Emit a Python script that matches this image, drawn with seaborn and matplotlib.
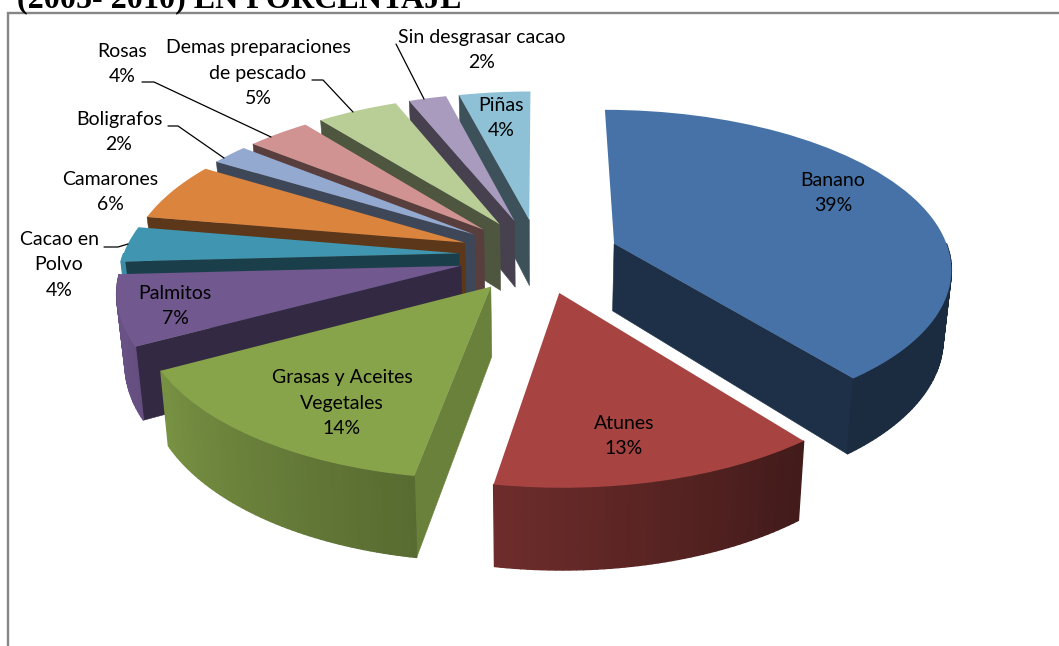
import matplotlib
matplotlib.use('Agg')
import matplotlib.pyplot as plt
import numpy as np
import seaborn as sns
from matplotlib.patches import Polygon
from matplotlib.transforms import Transform

# datos del grafico
categories = ['Banano', 'Atunes', 'Grasas y Aceites\nVegetales', 'Palmitos', 'Cacao en\nPolvo',
              'Camarones', 'Boligrafos', 'Rosas', 'Demas preparaciones\nde pescado',
              'Sin desgrasar cacao', 'Piñas']
values = [39.45, 13.3, 14.4, 7.05, 3.6, 5.96, 2.08, 3.55, 4.55, 2.11, 4.0]
pct_labels = [39, 13, 14, 7, 4, 6, 2, 4, 5, 2, 4]
slice_colors = ['#4672A8', '#A74442', '#87A44B', '#71588F', '#4096B0', '#DB843D',
                '#93A9CF', '#D19392', '#B9CD96', '#A99BBD', '#8FC1D6']
title_text = '(2005- 2010) EN PORCENTAJE'

# posicion de las etiquetas en pixeles
label_xy = [(833, 193), (624, 436), (342, 403), (175, 306), (59, 265), (110, 192),
            (119, 132), (122, 64), (258, 73), (482, 50), (501, 118)]
leaders = [[(104, 247), (118, 247), (128, 244)],
           [(168, 126), (178, 126), (224, 158)],
           [(142, 82), (154, 82), (271, 137)],
           [(312, 80), (323, 80), (353, 112)],
           [(396, 44), (424, 99)]]

# parametros de la perspectiva
CX, CY = 539, 255.6
AX_X, AX_Y = 336, 1106
D = 7.1
H = 68
EXPLODE = 0.239


def project(x, y, z=0.0):
    x = np.asarray(x, dtype=float)
    y = np.asarray(y, dtype=float)
    s = D / (D + y)
    sx = CX + AX_X * x * s * (1 - 0.02 * z)
    sy = CY - AX_Y * y / (D + y) + z * H * s
    return sx, sy


class Perspective(Transform):
    input_dims = 2
    output_dims = 2
    is_separable = False

    def transform_non_affine(self, values):
        values = np.asarray(values)
        sx, sy = project(values[:, 0], values[:, 1])
        return np.column_stack([sx, sy])


def shade(color, f):
    return tuple(np.array(matplotlib.colors.to_rgb(color)) * f)


sns.set_theme(style='white')
plt.rcParams['font.family'] = ['Lato', 'DejaVu Sans']

fig = plt.figure(figsize=(10.59, 6.46), dpi=100)
ax = fig.add_axes([0, 0, 1, 1])

wedges, _ = ax.pie(values, explode=[EXPLODE] * len(values), radius=1, startangle=90,
                   counterclock=False, colors=sns.color_palette(slice_colors),
                   labeldistance=None, wedgeprops={'linewidth': 0})

persp = Perspective() + ax.transData
order = sorted(range(len(wedges)), key=lambda i: wedges[i].center[1], reverse=True)

zo = 2.0
for i in order:
    w = wedges[i]
    col = slice_colors[i]
    cx, cy = w.center
    # angulos en sentido horario desde arriba
    phi1 = (90 - w.theta2) % 360
    phi2 = phi1 + (w.theta2 - w.theta1)

    # paredes radiales (solo las que miran al observador)
    for phi, sign in ((phi1, -1), (phi2, 1)):
        p = np.radians(phi)
        if sign * np.sin(p) <= 0.01:
            continue
        nu = sign * np.cos(p)
        f = 0.42 + 0.38 * max(0, nu) ** 3
        ex, ey = cx + np.sin(p), cy + np.cos(p)
        xs = np.array([cx, ex])
        ys = np.array([cy, ey])
        tx, ty = project(xs, ys)
        bx, by = project(xs, ys, 1)
        pts = [(tx[0], ty[0]), (tx[1], ty[1]), (bx[1], by[1]), (bx[0], by[0])]
        ax.add_patch(Polygon(pts, closed=True, facecolor=shade(col, f), edgecolor=shade(col, f),
                             linewidth=0.4, zorder=zo))
        zo += 0.001

    # borde curvo con degradado
    steps = np.arange(phi1, phi2 + 1.0, 1.0)
    steps = np.append(steps[steps < phi2], phi2)
    for a, b in zip(steps[:-1], steps[1:]):
        m = 0.5 * (a + b)
        if np.cos(np.radians(m)) > 0.0:
            continue
        f = np.interp(m % 360, [90, 140, 187, 244, 280], [0.38, 0.38, 0.64, 0.9, 0.95])
        xs = cx + np.sin(np.radians([a, b]))
        ys = cy + np.cos(np.radians([a, b]))
        tx, ty = project(xs, ys)
        bx, by = project(xs, ys, 1)
        pts = [(tx[0], ty[0]), (tx[1], ty[1]), (bx[1], by[1]), (bx[0], by[0])]
        ax.add_patch(Polygon(pts, closed=True, facecolor=shade(col, f), edgecolor=shade(col, f),
                             linewidth=1.0, zorder=zo))
        zo += 0.001

    w.set_transform(persp)
    w.set_zorder(zo)
    zo += 0.001

# marco del grafico
ax.plot([8, 8, 1059], [646, 13, 13], color='#868686', linewidth=1.7, zorder=1, solid_joinstyle='miter')

# lineas guia
for line in leaders:
    xs, ys = zip(*line)
    ax.plot(xs, ys, color='black', linewidth=0.9, zorder=50)

# etiquetas
for name, val, (lx, ly) in zip(categories, pct_labels, label_xy):
    ax.text(lx, ly, f'{name}\n{val}%', ha='center', va='center', fontsize=14, color='black',
            linespacing=1.6, zorder=60)

ax.text(17, 7, title_text, family='Liberation Serif', fontweight='bold', fontsize=23.15,
        ha='left', va='baseline', color='black', zorder=60)

ax.set_aspect('auto')
ax.set_xlim(0, 1059)
ax.set_ylim(646, 0)
ax.set_axis_off()

fig.savefig('out.png', dpi=100, facecolor='white')
